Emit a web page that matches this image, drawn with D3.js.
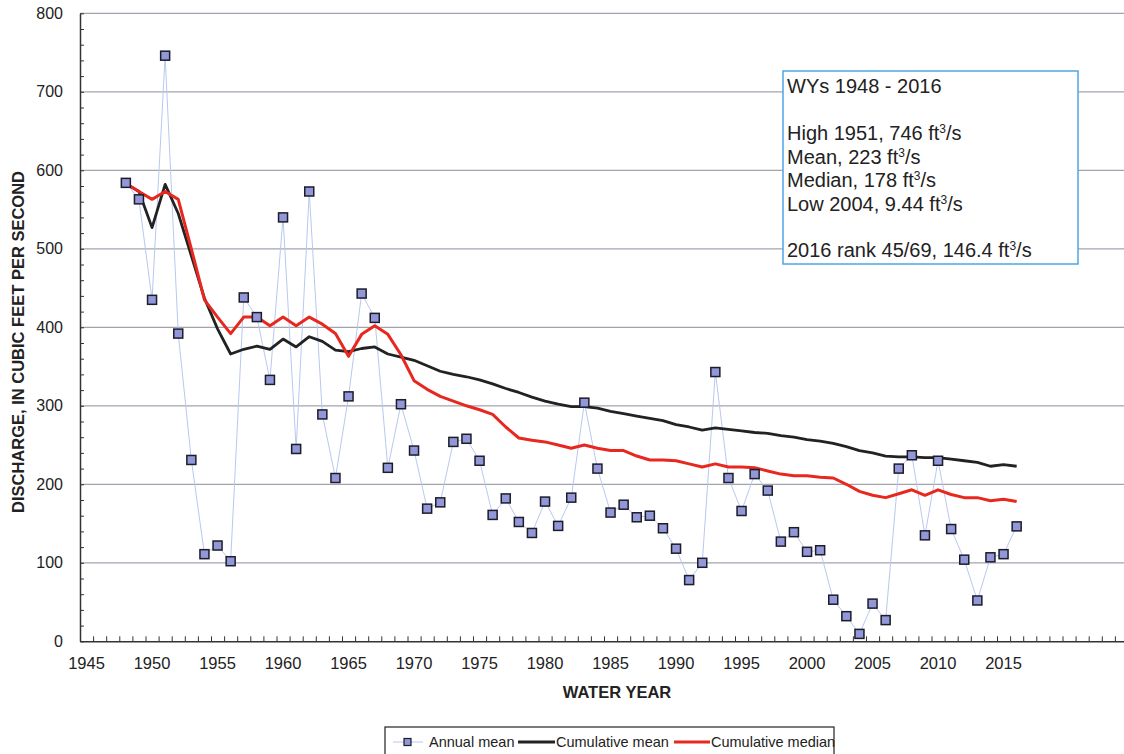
<!DOCTYPE html>
<html lang="en">
<head>
    <meta charset="UTF-8">
    <title>discharge</title>
    <style>
        body { margin: 0; background: #fff; }
        svg { display: block; font-family: Arial, "Liberation Sans", sans-serif; }
    </style>
</head>
<body>
<svg id="chart"></svg>

<script src="https://cdn.jsdelivr.net/npm/d3@7"></script>
<script>
    var width = 1124;
    var height = 754;

    // water years
    var years = [
        1948, 1949, 1950, 1951, 1952, 1953, 1954, 1955, 1956, 1957,
        1958, 1959, 1960, 1961, 1962, 1963, 1964, 1965, 1966, 1967,
        1968, 1969, 1970, 1971, 1972, 1973, 1974, 1975, 1976, 1977,
        1978, 1979, 1980, 1981, 1982, 1983, 1984, 1985, 1986, 1987,
        1988, 1989, 1990, 1991, 1992, 1993, 1994, 1995, 1996, 1997,
        1998, 1999, 2000, 2001, 2002, 2003, 2004, 2005, 2006, 2007,
        2008, 2009, 2010, 2011, 2012, 2013, 2014, 2015, 2016
    ];
    // annual mean discharge, ft3/s
    var annualMean = [
        584, 563, 435, 746, 392, 231, 111, 122, 102, 438,
        413, 333, 540, 245, 573, 289, 208, 312, 443, 412,
        221, 302, 243, 169, 177, 254, 258, 230, 161, 182,
        152, 138, 178, 147, 183, 304, 220, 164, 174, 158,
        160, 144, 118, 78, 100, 343, 208, 166, 213, 192,
        127, 139, 114, 116, 53, 32, 9.44, 48, 27, 220,
        237, 135, 230, 143, 104, 52, 107, 111, 146.4
    ];
    // cumulative mean (black line)
    var cumMean = [
        583, 573, 527, 582, 545, 491, 437, 398, 366, 372,
        376, 372, 385, 375, 388, 382, 371, 369, 373, 375,
        366, 362, 358, 351, 344, 340, 337, 333, 328, 322,
        317, 311, 306, 302, 299, 299, 297, 293, 290, 287,
        284, 281, 276, 273, 269, 272, 270, 268, 266, 265,
        262, 260, 257, 255, 252, 248, 243, 240, 236, 235,
        235, 234, 234, 232, 230, 228, 223, 225, 223
    ];
    // cumulative median (red line)
    var cumMedian = [
        583, 573, 563, 573, 563, 500, 435, 413, 392, 413,
        413, 402, 413, 402, 413, 404, 392, 363, 391, 402,
        391, 365, 332, 321, 312, 306, 300, 295, 289, 273,
        259, 256, 254, 250, 246, 250, 246, 243, 243, 236,
        231, 231, 230, 226, 222, 226, 222, 222, 221, 217,
        213, 211, 211, 209, 208, 200, 191, 186, 183, 188,
        193, 186, 193, 187, 183, 183, 179, 181, 178
    ];
    var xTickLabels = [1945, 1950, 1955, 1960, 1965, 1970, 1975, 1980, 1985, 1990, 1995, 2000, 2005, 2010, 2015];
    var yTickLabels = [0, 100, 200, 300, 400, 500, 600, 700, 800];

    var plotLeft = 80, plotTop = 13.3, plotBottom = 641.3;

    var x = d3.scaleLinear().domain([1944.5, 2024.5]).range([plotLeft, 1128]);
    var y = d3.scaleLinear().domain([0, 800]).range([plotBottom, plotTop]);

    var svg = d3.select("#chart")
        .attr("width", width)
        .attr("height", height);

    // gridlines
    svg.append("g")
        .selectAll("line")
        .data(yTickLabels.slice(1))
        .enter()
        .append("line")
        .attr("x1", plotLeft)
        .attr("x2", width)
        .attr("y1", function(d) { return y(d); })
        .attr("y2", function(d) { return y(d); })
        .attr("stroke", "#a3a3b0")
        .attr("stroke-width", 1.2);

    // y axis: labels outside, minor ticks inside
    var yAxis = d3.axisLeft(y)
        .tickValues(d3.range(0, 801, 20))
        .tickSizeInner(-4)
        .tickSizeOuter(0)
        .tickFormat(function(d) { return yTickLabels.indexOf(d) >= 0 ? d : ""; });
    var gy = svg.append("g")
        .attr("transform", "translate(" + plotLeft + ",0)")
        .call(yAxis);
    gy.select(".domain").attr("stroke", "#333").attr("stroke-width", 1.5);
    gy.selectAll(".tick line").attr("stroke", "#333").attr("stroke-width", 1);
    gy.selectAll(".tick text")
        .attr("x", -17)
        .attr("font-size", 16)
        .attr("fill", "#222")
        .attr("font-family", "Arial, 'Liberation Sans', sans-serif");

    // x axis: category boundaries as ticks, labels every 5 years
    var xAxis = d3.axisBottom(x)
        .tickValues(d3.range(1945.5, 2025, 1))
        .tickSizeInner(-5)
        .tickSizeOuter(0)
        .tickFormat("");
    var gx = svg.append("g")
        .attr("transform", "translate(0," + plotBottom + ")")
        .call(xAxis);
    gx.select(".domain").attr("stroke", "#333").attr("stroke-width", 1.5);
    gx.selectAll(".tick line").attr("stroke", "#333").attr("stroke-width", 1);

    svg.append("g")
        .selectAll("text")
        .data(xTickLabels)
        .enter()
        .append("text")
        .attr("x", function(d) { return x(d); })
        .attr("y", 669)
        .attr("text-anchor", "middle")
        .attr("font-size", 16.5)
        .attr("fill", "#222")
        .text(function(d) { return d; });

    // axis titles
    svg.append("text")
        .attr("x", 617)
        .attr("y", 698)
        .attr("text-anchor", "middle")
        .attr("font-size", 16.5)
        .attr("font-weight", "bold")
        .attr("fill", "#222")
        .text("WATER YEAR");

    svg.append("text")
        .attr("transform", "translate(24,342) rotate(-90)")
        .attr("text-anchor", "middle")
        .attr("font-size", 16.5)
        .attr("font-weight", "bold")
        .attr("fill", "#222")
        .text("DISCHARGE, IN CUBIC FEET PER SECOND");

    // series
    var line = function(values) {
        return d3.line()
            .x(function(d, i) { return x(years[i]); })
            .y(function(d) { return y(d); })(values);
    };

    svg.append("path")
        .attr("d", line(annualMean))
        .attr("fill", "none")
        .attr("stroke", "#b9c8f0")
        .attr("stroke-width", 1);

    svg.append("path")
        .attr("d", line(cumMean))
        .attr("fill", "none")
        .attr("stroke", "#222")
        .attr("stroke-width", 2.8)
        .attr("stroke-linejoin", "round");

    svg.append("path")
        .attr("d", line(cumMedian))
        .attr("fill", "none")
        .attr("stroke", "#e8281e")
        .attr("stroke-width", 3)
        .attr("stroke-linejoin", "round");

    var ms = 9;
    svg.append("g")
        .selectAll("rect")
        .data(annualMean)
        .enter()
        .append("rect")
        .attr("x", function(d, i) { return x(years[i]) - ms / 2; })
        .attr("y", function(d) { return y(d) - ms / 2; })
        .attr("width", ms)
        .attr("height", ms)
        .attr("fill", "#9297d8")
        .attr("stroke", "#1c1c2a")
        .attr("stroke-width", 1.5);

    // statistics box
    var box = svg.append("g");
    box.append("rect")
        .attr("x", 783)
        .attr("y", 71)
        .attr("width", 295)
        .attr("height", 193)
        .attr("fill", "#fff")
        .attr("stroke", "#4ea6e6")
        .attr("stroke-width", 1.5);

    var boxLines = [
        { y: 92.5, parts: ["WYs 1948 - 2016"] },
        { y: 140, parts: ["High 1951, 746 ft", "3", "/s"] },
        { y: 163.5, parts: ["Mean, 223 ft", "3", "/s"] },
        { y: 187, parts: ["Median, 178 ft", "3", "/s"] },
        { y: 210.5, parts: ["Low 2004, 9.44 ft", "3", "/s"] },
        { y: 257, parts: ["2016 rank 45/69, 146.4 ft", "3", "/s"] }
    ];
    boxLines.forEach(function(l) {
        var t = box.append("text")
            .attr("x", 787)
            .attr("y", l.y)
            .attr("font-size", 20)
            .attr("fill", "#222");
        l.parts.forEach(function(p, k) {
            var ts = t.append("tspan").text(p);
            if (k === 1) ts.attr("font-size", 12).attr("dy", -7);
            if (k === 2) ts.attr("dy", 7);
        });
    });

    // legend
    var lg = svg.append("g");
    lg.append("rect")
        .attr("x", 385)
        .attr("y", 727)
        .attr("width", 449)
        .attr("height", 40)
        .attr("fill", "#fff")
        .attr("stroke", "#222")
        .attr("stroke-width", 1.2);

    lg.append("line").attr("x1", 393).attr("x2", 423).attr("y1", 742).attr("y2", 742)
        .attr("stroke", "#b9c8f0").attr("stroke-width", 1);
    lg.append("rect").attr("x", 404).attr("y", 738.5).attr("width", 7).attr("height", 7)
        .attr("fill", "#9297d8").attr("stroke", "#1c1c2a").attr("stroke-width", 1.2);
    lg.append("line").attr("x1", 518).attr("x2", 555).attr("y1", 742).attr("y2", 742)
        .attr("stroke", "#222").attr("stroke-width", 2.8);
    lg.append("line").attr("x1", 674).attr("x2", 710).attr("y1", 742).attr("y2", 742)
        .attr("stroke", "#e8281e").attr("stroke-width", 3);

    var legendText = [
        { x: 429, t: "Annual mean" },
        { x: 556, t: "Cumulative mean" },
        { x: 711, t: "Cumulative median" }
    ];
    lg.selectAll("text")
        .data(legendText)
        .enter()
        .append("text")
        .attr("x", function(d) { return d.x; })
        .attr("y", 747)
        .attr("font-size", 14.5)
        .attr("fill", "#222")
        .text(function(d) { return d.t; });
</script>
</body>
</html>
